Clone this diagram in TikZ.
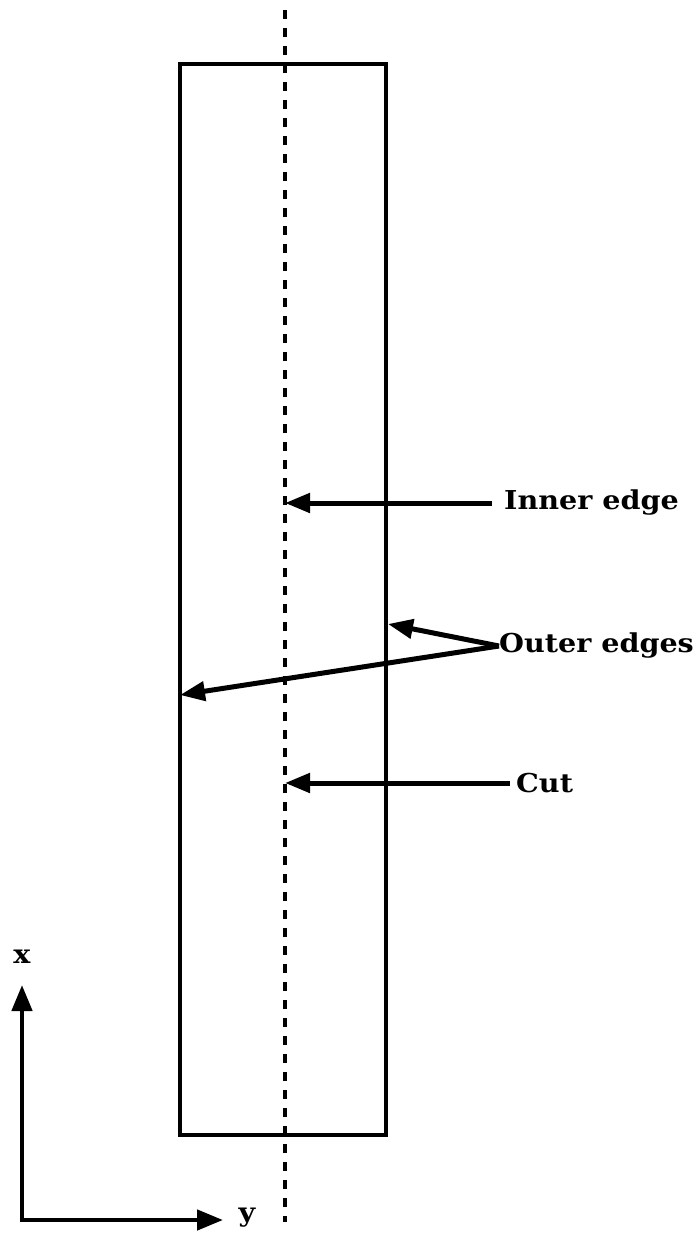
\documentclass[tikz,border=0pt]{standalone}
\usepackage{fontspec}
\setmainfont[FakeStretch=1.1]{DejaVu Serif}
\usetikzlibrary{arrows.meta}
\begin{document}
\begin{tikzpicture}[x=1pt,y=-1pt,
  lblfont/.style={font=\bfseries\fontsize{26}{30}\selectfont},
  lbl/.style={lblfont, inner sep=0pt, anchor=west},
  pointer/.style={line width=5pt, -{Triangle[length=25pt,width=19pt]}},
  edge/.style={line width=4.2pt},
  cutline/.style={line width=4.4pt, dash pattern=on 9pt off 9pt}]
\useasboundingbox (0,0) rectangle (699,1236);
% strip
\draw[edge] (180,64) rectangle (386,1135);
% cut line
\coordinate (ctop) at (285,10);
\coordinate (cbot) at (285,1222);
\draw[cutline] (ctop) -- (cbot);
% labels
\node[lbl] (inner) at (504,503) {Inner edge};
\node[lbl] (outer) at (499,646) {Outer edges};
\node[lbl] (cut) at (516,783) {Cut};
\coordinate (innertip) at (285,503);
\coordinate (cuttip) at (285,783);
\coordinate (outtipA) at (388,624);
\coordinate (outtipB) at (180,695);
\draw[pointer] (inner.west) ++(-12,0) -- (innertip);
\draw[pointer] (cut.west) ++(-6,0) -- (cuttip);
\draw[pointer] (outer.west) -- (outtipA);
\draw[pointer] (outer.west) -- (outtipB);
% axes
\coordinate (origin) at (22,1220);
\coordinate (xtip) at (22,985);
\coordinate (ytip) at (223,1220);
\draw[line width=4.6pt, -{Triangle[length=26pt,width=20pt]}] (origin) -- (xtip);
\draw[line width=4.6pt, -{Triangle[length=26pt,width=20pt]}] ([xshift=-2.3]origin) -- (ytip);
\node[lblfont, inner sep=0pt] (xl) at (22,957) {x};
\node[lblfont, inner sep=0pt] (yl) at (247,1218) {y};
\end{tikzpicture}
\end{document}
